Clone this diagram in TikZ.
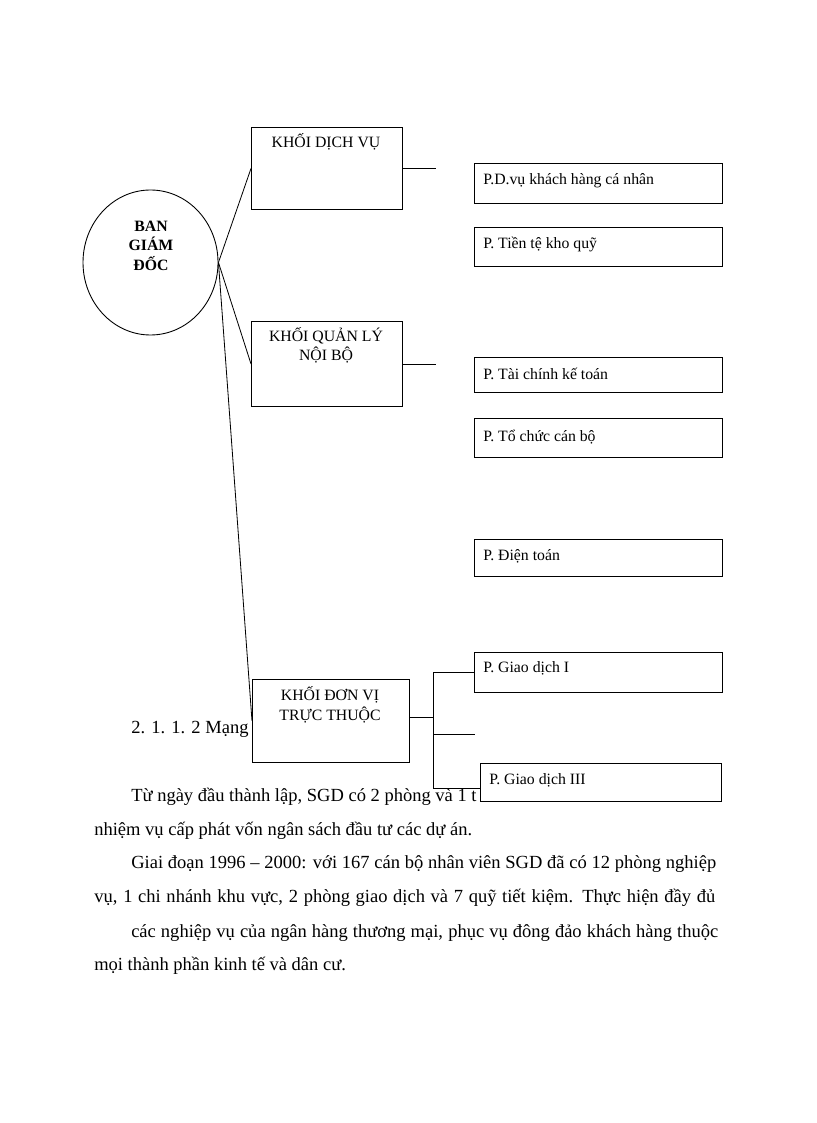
\documentclass[tikz,border=0pt]{standalone}
\usepackage{fontspec}
\setmainfont{Liberation Serif}
\usetikzlibrary{shapes.geometric}
\begin{document}
\begin{tikzpicture}[x=0.7292pt,y=-0.7292pt]
\tikzset{
  pxsize/.style 2 args={minimum width=#1*0.7292pt, minimum height=#2*0.7292pt},
  box/.style={draw, fill=white, line width=0.65pt, inner sep=0pt, anchor=north west},
  circ/.style={draw, ellipse, line width=0.65pt, inner sep=0pt},
  boxtext/.style={font=\fontsize{11.5}{13}\selectfont, anchor=base west, inner sep=0pt},
  ctext/.style={font=\fontsize{11.5}{13}\selectfont, anchor=base, inner sep=0pt},
  btext/.style={font=\bfseries\fontsize{11.5}{13}\selectfont, anchor=base, inner sep=0pt},
  body/.style={font=\fontsize{13.5}{16}\selectfont, anchor=base west, inner sep=0pt},
  conn/.style={line width=0.6pt},
}
\fill[white] (0,0) rectangle (816,1123);
\useasboundingbox (0,0) rectangle (816,1123);

% body text (drawn first, partly covered by boxes)
\node[body] (t1) at (131,733) {2. 1. 1. 2 Mạng};
\node[body] (t2) at (131,801) {Từ ngày đầu thành lập, SGD có 2 phòng và 1 t};
\node[body] (t3) at (94,835) {nhiệm vụ cấp phát vốn ngân sách đầu tư các dự án.};
\node[body] (t4) at (131,868) {\makebox[426.6pt][s]{Giai đoạn 1996 – 2000: với 167 cán bộ nhân viên SGD đã có 12 phòng nghiệp}};
\node[body] (t5) at (94,902) {\makebox[452.8pt][s]{vụ, 1 chi nhánh khu vực, 2 phòng giao dịch và 7 quỹ tiết kiệm. Thực hiện đầy đủ}};
\node[body] (t6) at (131,937) {\makebox[428pt][s]{các nghiệp vụ của ngân hàng thương mại, phục vụ đông đảo khách hàng thuộc}};
\node[body] (t7) at (94,970) {mọi thành phần kinh tế và dân cư.};

% circle
\node[circ, pxsize={135}{145}] (bgd) at (150.5,262.5) {};
\node[btext] (bgd1) at (151,232) {BAN};
\node[btext] (bgd2) at (151,251) {GIÁM};
\node[btext] (bgd3) at (151,271) {ĐỐC};

% level-1 boxes
\node[box, pxsize={151}{82}] (kdv) at (251,127) {};
\node[box, pxsize={151}{85}] (kql) at (251,321) {};
\node[box, pxsize={157}{83}] (kdt) at (252,679) {};

% level-2 boxes
\node[box, pxsize={248}{40}] (p1) at (474,163) {};
\node[box, pxsize={248}{39}] (p2) at (474,227) {};
\node[box, pxsize={248}{35}] (p3) at (474,357) {};
\node[box, pxsize={248}{39}] (p4) at (474,418) {};
\node[box, pxsize={248}{37}] (p5) at (474,539) {};
\node[box, pxsize={248}{40}] (p6) at (474,652) {};

% connectors from the circle
\draw[conn] (bgd.east) -- (kdv.west);
\draw[conn] (bgd.east) -- (kql.west);
\draw[conn] (bgd.east) -- (kdt.west);

% stubs on the right of level-1 boxes
\coordinate (s1) at (436,168);
\coordinate (s2) at (436,364);
\draw[conn] (kdv.east |- s1) -- (s1);
\draw[conn] (kql.east |- s2) -- (s2);

% fork of KHOI DON VI
\coordinate (j0) at (433,717);
\coordinate (jt) at (433,672);
\coordinate (jm) at (433,734);
\coordinate (jb) at (433,788);
\coordinate (sm) at (475,734);
\draw[conn] (kdt.east |- j0) -- (j0);
\draw[conn] (jt) -- (jb);
\draw[conn] (jt) -- (p6.west |- jt);
\draw[conn] (jm) -- (sm);
\draw[conn] (jb) -- (480,788) coordinate (jbe);

% last box, over the bottom connector and the text
\node[box, pxsize={241}{38}] (p7) at (480,763) {};

% box labels
\node[ctext] (kdvt) at (326,148) {KHỐI DỊCH VỤ};
\node[ctext] (kqlt1) at (326,342) {KHỐI QUẢN LÝ};
\node[ctext] (kqlt2) at (326,361) {NỘI BỘ};
\node[ctext] (kdtt1) at (330,700) {KHỐI ĐƠN VỊ};
\node[ctext] (kdtt2) at (330,720) {TRỰC THUỘC};

\node[boxtext] (p1t) at (483,185) {P.D.vụ khách hàng cá nhân};
\node[boxtext] (p2t) at (483,249) {P. Tiền tệ kho quỹ};
\node[boxtext] (p3t) at (483,379) {P. Tài chính kế toán};
\node[boxtext] (p4t) at (483,441) {P. Tổ chức cán bộ};
\node[boxtext] (p5t) at (483,560) {P. Điện toán};
\node[boxtext] (p6t) at (483,672) {P. Giao dịch I};
\node[boxtext] (p7t) at (489,784) {P. Giao dịch III};
\end{tikzpicture}
\end{document}
